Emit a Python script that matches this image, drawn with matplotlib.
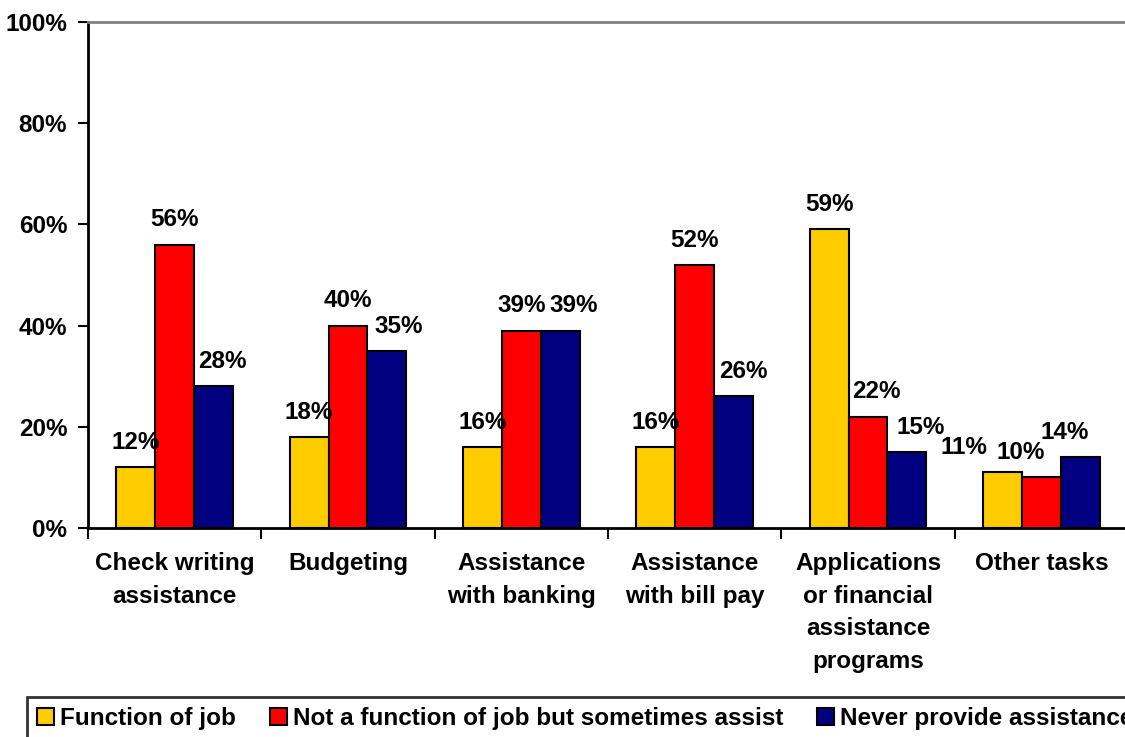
import matplotlib.pyplot as plt
import numpy as np

# Survey results: share of respondents per task
categories = ['Check writing\nassistance', 'Budgeting', 'Assistance\nwith banking',
              'Assistance\nwith bill pay', 'Applications\nor financial\nassistance\nprograms',
              'Other tasks']
series_names = ['Function of job', 'Not a function of job but sometimes assist',
                'Never provide assistance']
function_of_job = [12, 18, 16, 16, 59, 11]
sometimes_assist = [56, 40, 39, 52, 22, 10]
never_assist = [28, 35, 39, 26, 15, 14]
y_ticks = [0, 20, 40, 60, 80, 100]

colors = ['#FFCC00', '#FF0000', '#000080']
series = [function_of_job, sometimes_assist, never_assist]

plt.rcParams['font.family'] = ['Liberation Sans', 'DejaVu Sans']
plt.rcParams['font.weight'] = 'bold'
fs = 17.5

fig = plt.figure(figsize=(11.25, 7.37), dpi=100)
ax = fig.add_axes([88 / 1125, 209 / 737, 1040 / 1125, 506 / 737])

x = np.arange(len(categories))
width = 0.224
# horizontal nudges for value labels (category units), keyed by (category, series)
label_nudge = {(0, 2): 0.054, (1, 2): 0.066, (2, 2): 0.078, (3, 2): 0.058,
               (4, 1): 0.046, (4, 2): 0.08,
               (5, 0): -0.225, (5, 1): -0.117, (5, 2): -0.092}

for i, (vals, col, name) in enumerate(zip(series, colors, series_names)):
    pos = x + (i - 1) * width
    ax.bar(pos, vals, width, color=col, edgecolor='black', linewidth=1.5,
           label=name, zorder=2)
    for j, v in enumerate(vals):
        dx = label_nudge.get((j, i), 0)
        ax.text(pos[j] + dx, v + 3.6, f'{v}%', ha='center', va='baseline',
                fontsize=fs, fontweight='bold', zorder=3)

ax.set_xlim(-0.5, len(categories) - 0.5)
ax.set_ylim(0, 100)
ax.set_yticks(y_ticks)
ax.set_yticklabels([f'{t}%' for t in y_ticks], fontsize=fs, fontweight='bold')
ax.set_xticks(x)
ax.set_xticklabels(categories, fontsize=fs, fontweight='bold', linespacing=1.55,
                   va='top')
ax.tick_params(axis='x', length=0, pad=17)
ax.set_xticks(np.arange(len(categories) + 1) - 0.5, minor=True)
ax.tick_params(axis='x', which='minor', length=8, width=1.5, direction='out')
ax.tick_params(axis='y', length=7, width=1.5, direction='out', pad=8)

ax.spines['left'].set_linewidth(2)
ax.spines['bottom'].set_linewidth(2)
ax.spines['top'].set_color('#808080')
ax.spines['top'].set_linewidth(2)
ax.spines['right'].set_visible(False)

# legend box runs past the right edge of the figure
leg = fig.legend(loc='upper left', bbox_to_anchor=(27 / 1125, 1 - 697 / 737), ncol=3,
                 fontsize=fs, frameon=True, fancybox=False, edgecolor='black',
                 handlelength=0.7, handleheight=0.7, handletextpad=0.25,
                 columnspacing=1.4, borderpad=0.4, borderaxespad=0)
leg.get_frame().set_linewidth(2)
for t in leg.get_texts():
    t.set_fontweight('bold')

fig.savefig('out.png', dpi=100)
